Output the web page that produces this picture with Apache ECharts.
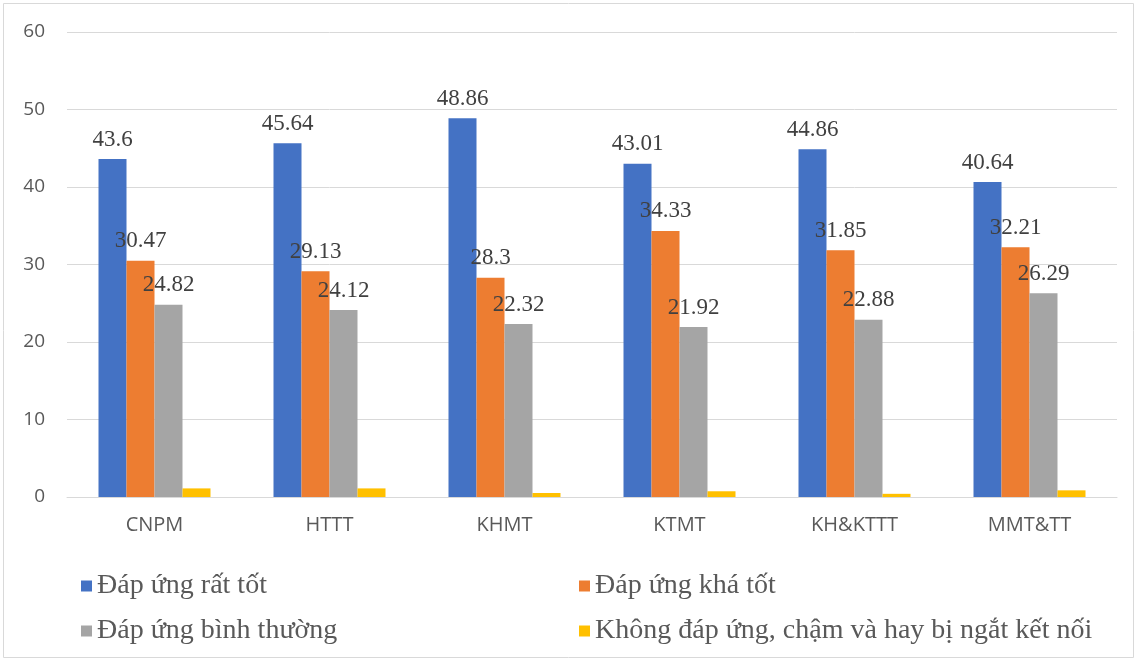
<!DOCTYPE html>
<html><head><meta charset="utf-8">
<script src="https://cdn.jsdelivr.net/npm/echarts@6/dist/echarts.min.js"></script>
<style>html,body{margin:0;padding:0;background:#fff}#c{width:1137px;height:661px}</style>
</head><body><div id="c"></div>
<script>
const categories = ['CNPM','HTTT','KHMT','KTMT','KH&KTTT','MMT&TT'];
const seriesNames = ['Đáp ứng rất tốt','Đáp ứng khá tốt','Đáp ứng bình thường','Không đáp ứng, chậm và hay bị ngắt kết nối'];
const rấtTốt = [43.6, 45.64, 48.86, 43.01, 44.86, 40.64];
const kháTốt = [30.47, 29.13, 28.3, 34.33, 31.85, 32.21];
const bìnhThường = [24.82, 24.12, 22.32, 21.92, 22.88, 26.29];
const khôngĐápỨng = [1.11, 1.11, 0.52, 0.74, 0.41, 0.86];
const yTicks = [0, 10, 20, 30, 40, 50, 60];
const colors = ['#4472C4','#ED7D31','#A5A5A5','#FFC000'];

const chart = echarts.init(document.getElementById('c'));
const label = {show:true, position:'top', distance:8, fontFamily:'Liberation Serif', fontSize:23, color:'#404040'};
const legendText = {fontFamily:'Liberation Serif', fontSize:28, color:'#595959'};
chart.setOption({
  animation:false,
  graphic:[{type:'rect', shape:{x:3.5,y:3.5,width:1130,height:654}, style:{fill:'none', stroke:'#D9D9D9', lineWidth:1}, silent:true}],
  grid:{left:67, right:20, top:32, bottom:164},
  xAxis:{type:'category', data:categories,
    axisLine:{lineStyle:{color:'#D9D9D9', width:1}}, axisTick:{show:false},
    axisLabel:{fontFamily:'Open Sans', fontSize:20, color:'#595959', margin:18}},
  yAxis:{type:'value', min:yTicks[0], max:yTicks[yTicks.length-1], interval:10,
    axisLine:{show:false}, axisTick:{show:false},
    splitLine:{lineStyle:{color:'#D9D9D9', width:1}},
    axisLabel:{fontFamily:'Open Sans', fontSize:19, color:'#595959', margin:22}},
  legend:[
    {left:76, top:567, orient:'vertical', itemGap:17, itemWidth:11, itemHeight:11, icon:'rect', textStyle:legendText, data:[seriesNames[0], seriesNames[2]]},
    {left:574, top:567, orient:'vertical', itemGap:17, itemWidth:11, itemHeight:11, icon:'rect', textStyle:legendText, data:[seriesNames[1], seriesNames[3]]}
  ],
  series:[
    {name:seriesNames[0], type:'bar', data:rấtTốt, itemStyle:{color:colors[0]}, barGap:'0%', barCategoryGap:'36%', label:label},
    {name:seriesNames[1], type:'bar', data:kháTốt, itemStyle:{color:colors[1]}, label:label},
    {name:seriesNames[2], type:'bar', data:bìnhThường, itemStyle:{color:colors[2]}, label:label},
    {name:seriesNames[3], type:'bar', data:khôngĐápỨng, itemStyle:{color:colors[3]}}
  ]
});
</script></body></html>
